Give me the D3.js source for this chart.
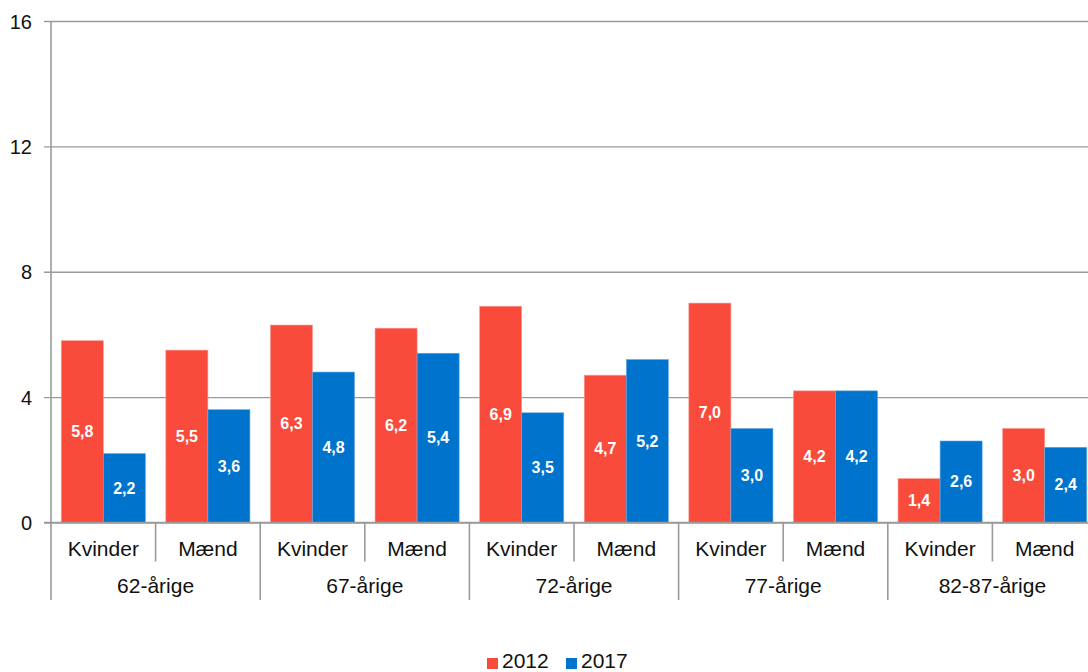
<!DOCTYPE html>
<html>
<head>
<meta charset="utf-8">
<script src="https://cdn.jsdelivr.net/npm/d3@7"></script>
<style>
  html, body { margin: 0; padding: 0; background: #fff; overflow: hidden; }
  svg { display: block; font-family: "Liberation Sans", Arial, sans-serif; }
</style>
</head>
<body>
<svg id="chart" width="1088" height="672"></svg>
<script>
const genders = ["Kvinder", "Mænd"];
const ageGroups = ["62-årige", "67-årige", "72-årige", "77-årige", "82-87-årige"];
const seriesNames = ["2012", "2017"];
const values2012 = [5.8, 5.5, 6.3, 6.2, 6.9, 4.7, 7.0, 4.2, 1.4, 3.0];
const values2017 = [2.2, 3.6, 4.8, 5.4, 3.5, 5.2, 3.0, 4.2, 2.6, 2.4];
const yTicks = [0, 4, 8, 12, 16];
const colors = ["#f84b3c", "#0073cd"];

const categories = [];
ageGroups.forEach(a => genders.forEach(g => categories.push({ age: a, gender: g, key: a + "|" + g })));
const rows = categories.map((c, i) => ({ ...c, values: [values2012[i], values2017[i]] }));

const svg = d3.select("#chart");
const mLeft = 51, mRight = 1097, mTop = 21, mBottom = 522.5;

const x = d3.scaleBand().domain(categories.map(c => c.key)).range([mLeft, mRight]).paddingInner(0.196).paddingOuter(0.098);
const step = x.step();
const xs = d3.scaleBand().domain(seriesNames).range([0, x.bandwidth()]);
const y = d3.scaleLinear().domain([0, 16]).range([mBottom, mTop]);

const grid = "#9a9a9a";

// gridlines + y labels
const yAxis = d3.axisLeft(y).tickValues(yTicks).tickSize(0).tickSizeOuter(0).tickFormat(d3.format("d"));
const ga = svg.append("g").attr("transform", `translate(44,0)`).call(yAxis);
ga.select(".domain").remove();
ga.selectAll(".tick line").attr("stroke", grid).attr("stroke-width", 1.4).attr("x1", 0).attr("x2", 1088 - 44);
ga.selectAll(".tick text").attr("fill", "#111").style("font-size", "20px").attr("x", -12).attr("dy", "0.35em");

// bars
const groups = svg.append("g").selectAll("g").data(rows).join("g")
  .attr("transform", d => `translate(${x(d.key)},0)`);
groups.selectAll("rect").data(d => d.values.map((v, i) => ({ v, s: seriesNames[i], i }))).join("rect")
  .attr("x", d => xs(d.s))
  .attr("width", xs.bandwidth())
  .attr("y", d => y(d.v))
  .attr("height", d => y(0) - y(d.v))
  .attr("fill", d => colors[d.i])
  .attr("stroke", d => d.i === 0 ? "#fb9a90" : "#6aa8e0")
  .attr("stroke-width", 0.6);

groups.selectAll("text").data(d => d.values.map((v, i) => ({ v, s: seriesNames[i], i }))).join("text")
  .attr("x", d => xs(d.s) + xs.bandwidth() / 2)
  .attr("y", d => (y(d.v) + y(0)) / 2)
  .attr("dy", "0.35em")
  .attr("text-anchor", "middle")
  .attr("fill", "#fff")
  .style("font-size", "16px")
  .style("font-weight", "bold")
  .text(d => d3.format(".1f")(d.v).replace(".", ","));

// baseline at 0 (on top of bars)
svg.append("line").attr("x1", 44).attr("x2", 1088).attr("y1", y(0)).attr("y2", y(0)).attr("stroke", grid).attr("stroke-width", 1.4);

// y axis line
svg.append("line").attr("x1", mLeft).attr("x2", mLeft).attr("y1", mTop).attr("y2", 600).attr("stroke", grid).attr("stroke-width", 1.6);

// category dividers
const boundaries = d3.range(1, categories.length + 1).map(i => mLeft + i * step);
svg.append("g").selectAll("line").data(boundaries).join("line")
  .attr("x1", d => d).attr("x2", d => d)
  .attr("y1", y(0))
  .attr("y2", (d, i) => (i % 2 === 1) ? 600 : 561.5)
  .attr("stroke", grid).attr("stroke-width", 1.6);

// gender labels
svg.append("g").selectAll("text").data(categories).join("text")
  .attr("x", d => x(d.key) + x.bandwidth() / 2)
  .attr("y", 555.5)
  .attr("text-anchor", "middle")
  .attr("fill", "#111")
  .style("font-size", "21px")
  .text(d => d.gender);

// age labels
svg.append("g").selectAll("text").data(ageGroups).join("text")
  .attr("x", (d, i) => mLeft + (i * 2 + 1) * step)
  .attr("y", 592.5)
  .attr("text-anchor", "middle")
  .attr("fill", "#111")
  .style("font-size", "21px")
  .text(d => d);

// legend
const legendX = [487, 566];
const lg = svg.append("g").selectAll("g").data(seriesNames).join("g")
  .attr("transform", (d, i) => `translate(${legendX[i]},0)`);
lg.append("rect").attr("x", 0).attr("y", 658).attr("width", 11).attr("height", 11).attr("fill", (d, i) => colors[i]);
lg.append("text").attr("x", 15).attr("y", 668).attr("fill", "#111").style("font-size", "21px").text(d => d);
</script>
</body>
</html>
